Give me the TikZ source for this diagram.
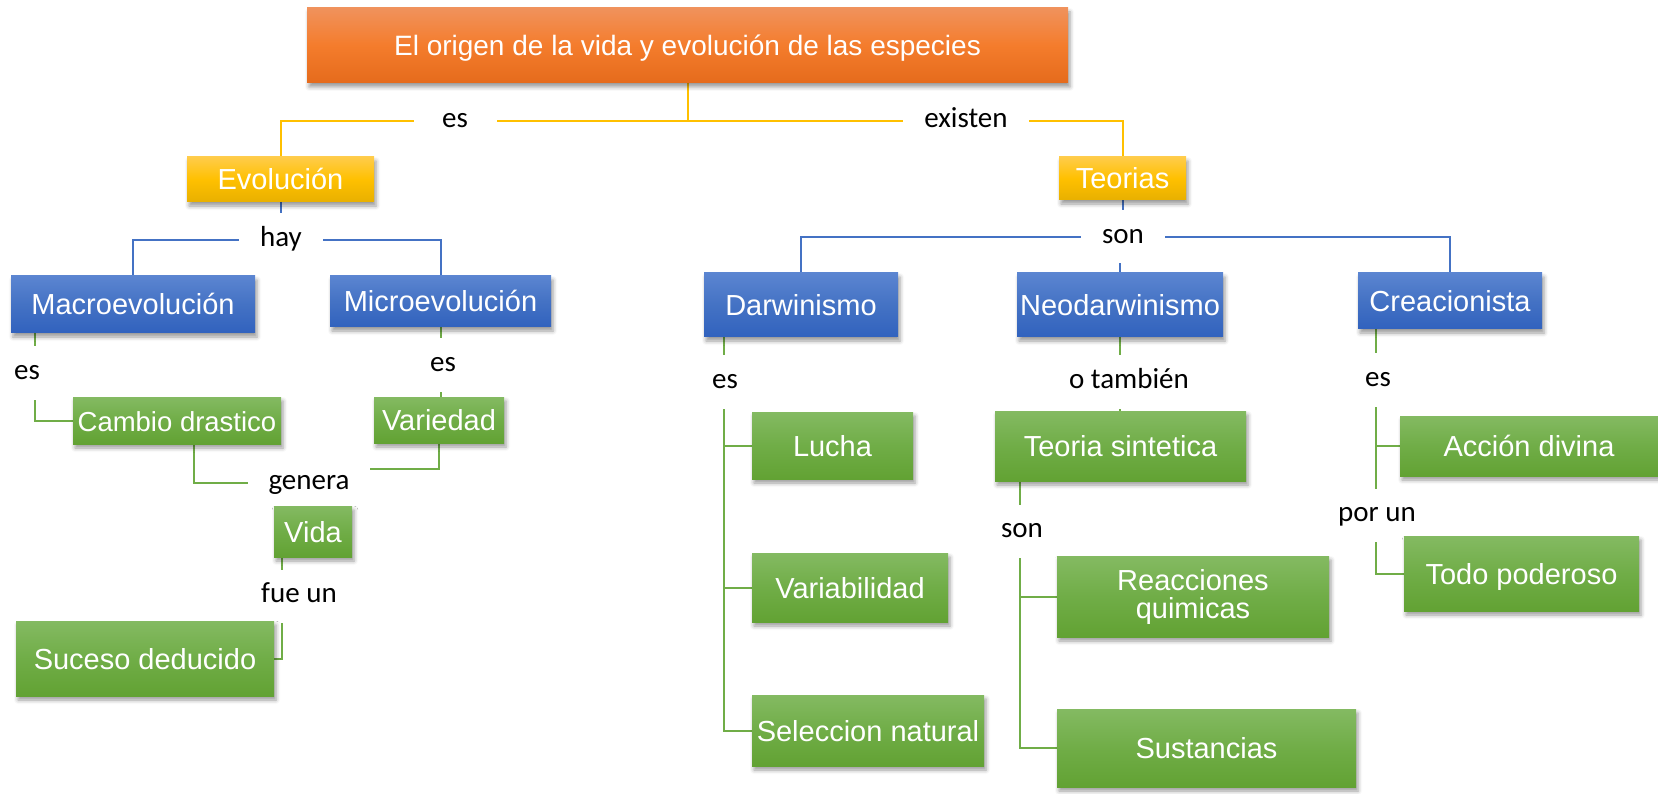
\documentclass[tikz,border=0pt]{standalone}
\usepackage{fontspec}
\setmainfont{Liberation Sans}
\newfontfamily\calfont{Carlito}
\usetikzlibrary{shadows.blur,backgrounds,calc}
\definecolor{orTop}{HTML}{F0925C}
\definecolor{orMid}{HTML}{F47C2C}
\definecolor{orBot}{HTML}{E56B1C}
\definecolor{goTop}{HTML}{FFCC4A}
\definecolor{goMid}{HTML}{FFC000}
\definecolor{goBot}{HTML}{E8B000}
\definecolor{blTop}{HTML}{5B85D1}
\definecolor{blMid}{HTML}{4472C4}
\definecolor{blBot}{HTML}{3162BE}
\definecolor{grTop}{HTML}{84BA62}
\definecolor{grMid}{HTML}{70AD47}
\definecolor{grBot}{HTML}{62A233}
\definecolor{lnY}{HTML}{FFC000}
\definecolor{lnB}{HTML}{4472C4}
\definecolor{lnG}{HTML}{70AD47}
\newcommand\mkbox[7]{\node[#2, minimum width={#5-#3}, minimum height={#6-#4}] (#1) at ({(#3+#5)/2},{(#4+#6)/2}) {#7};}
\tikzset{
  box/.style={rectangle, inner sep=0pt, text=white,
    blur shadow={shadow xshift=2pt, shadow yshift=-4pt, shadow blur radius=4pt, shadow opacity=40},
    font=\fontsize{29}{29}\selectfont, text height=21pt, text depth=0pt},
  obox/.style={box, top color=orTop, bottom color=orBot, middle color=orMid},
  gbox/.style={box, top color=goTop, bottom color=goBot, middle color=goMid},
  bbox/.style={box, top color=blTop, bottom color=blBot, middle color=blMid},
  grbox/.style={box, top color=grTop, bottom color=grBot, middle color=grMid},
  lbl/.style={fill=white, inner xsep=21pt, inner ysep=13pt, text height=20pt, text depth=7pt,
    font=\calfont\fontsize{29}{29}\selectfont, text=black},
  yl/.style={draw=lnY, line width=2pt},
  bl/.style={draw=lnB, line width=2pt},
  gl/.style={draw=lnG, line width=2pt},
}
\begin{document}
\begin{tikzpicture}[x=1pt,y=-1pt]
\useasboundingbox (0,0) rectangle (1658,794);
% labels
\node[lbl, minimum width=83] (es1) at (455,121) {es};
\node[lbl] (ex1) at (966,121) {existen};
\node[lbl] (hay) at (281,240) {hay};
\node[lbl] (son1) at (1123,237) {son};
\node[lbl] (esM) at (27,373) {es};
\node[lbl] (esMi) at (443,365) {es};
\node[lbl] (genera) at (309,483) {genera};
\node[lbl] (fueun) at (299,596) {fue un};
\node[lbl] (esD) at (725,382) {es};
\node[lbl] (otam) at (1129,382) {o también};
\node[lbl] (sonT) at (1022,531) {son};
\node[lbl] (esC) at (1378,380) {es};
\node[lbl] (porun) at (1377,515) {por un};
% boxes
\mkbox{title}{obox, font=\fontsize{28}{28}\selectfont}{307}{8}{1068}{83}{El origen de la vida y evolución de las especies}
\mkbox{evol}{gbox}{187}{157}{374}{202}{Evolución}
\mkbox{teor}{gbox}{1059}{157}{1186}{200}{Teorias}
\mkbox{macro}{bbox}{11}{276}{255}{333}{Macroevolución}
\mkbox{micro}{bbox}{330}{276}{551}{327}{Microevolución}
\mkbox{darw}{bbox}{704}{273}{898}{337}{Darwinismo}
\mkbox{neo}{bbox}{1017}{273}{1223}{337}{Neodarwinismo}
\mkbox{crea}{bbox}{1358}{273}{1542}{329}{Creacionista}
\mkbox{cambio}{grbox, font=\fontsize{27.5}{27.5}\selectfont}{73}{397}{281}{444}{Cambio drastico}
\mkbox{varied}{grbox}{374}{397}{504}{443}{Variedad}
\mkbox{vida}{grbox}{274}{506}{352}{557}{Vida}
\mkbox{suceso}{grbox}{16}{621}{274}{696}{Suceso deducido}
\mkbox{lucha}{grbox}{752}{412}{913}{479}{Lucha}
\mkbox{variab}{grbox}{752}{553}{948}{622}{Variabilidad}
\mkbox{selec}{grbox}{752}{695}{984}{766}{Seleccion natural}
\mkbox{teoria}{grbox}{995}{411}{1246}{481}{Teoria sintetica}
\mkbox{reac}{grbox, text height={}, text depth={}, align=center, font=\fontsize{29}{28}\selectfont}{1057}{556}{1329}{637}{Reacciones\\quimicas}
\mkbox{sust}{grbox}{1057}{709}{1356}{787}{Sustancias}
\mkbox{accion}{grbox}{1400}{416}{1658}{476}{Acción divina}
\mkbox{todo}{grbox}{1404}{536}{1639}{611}{Todo poderoso}
% connectors
\begin{scope}[on background layer]
\draw[yl] (title.south) |- (es1.center) -| (evol.north);
\draw[yl] (title.south) |- (ex1.center) -| (teor.north);
\draw[bl] (evol.south) |- (hay.center) -| (macro.north);
\draw[bl] (hay.center) -| (micro.north);
\draw[bl] (teor.south) |- (son1.center) -| (darw.north);
\draw[bl] (son1.center) -| (crea.north);
\draw[bl] (son1.center -| neo.north) -- (neo.north);
\coordinate (m1) at ($(macro.south west)+(24,0)$);
\draw[gl] (m1) |- (cambio.west);
\coordinate (c1) at ($(cambio.south west)+(121,0)$);
\draw[gl] (c1) |- (genera.center);
\draw[gl] (varied.south) |- ([yshift=14pt]genera.center);
\coordinate (v1) at ($(vida.south west)+(8,0)$);
\draw[gl] (v1) |- (suceso.east);
\draw[gl] (micro.south) -- (micro.south |- varied.north);
\coordinate (d1) at ($(darw.south west)+(20,0)$);
\draw[gl] (d1) |- (selec.west);
\draw[gl] (d1 |- lucha.west) -- (lucha.west);
\draw[gl] (d1 |- variab.west) -- (variab.west);
\draw[gl] (neo.south) -- (neo.south |- teoria.north);
\coordinate (t1) at ($(teoria.south west)+(25,0)$);
\draw[gl] (t1) |- (sust.west);
\draw[gl] (t1 |- reac.west) -- (reac.west);
\coordinate (k1) at ($(crea.south west)+(18,0)$);
\draw[gl] (k1) |- (todo.west);
\draw[gl] (k1 |- accion.west) -- (accion.west);
\end{scope}
\end{tikzpicture}
\end{document}
